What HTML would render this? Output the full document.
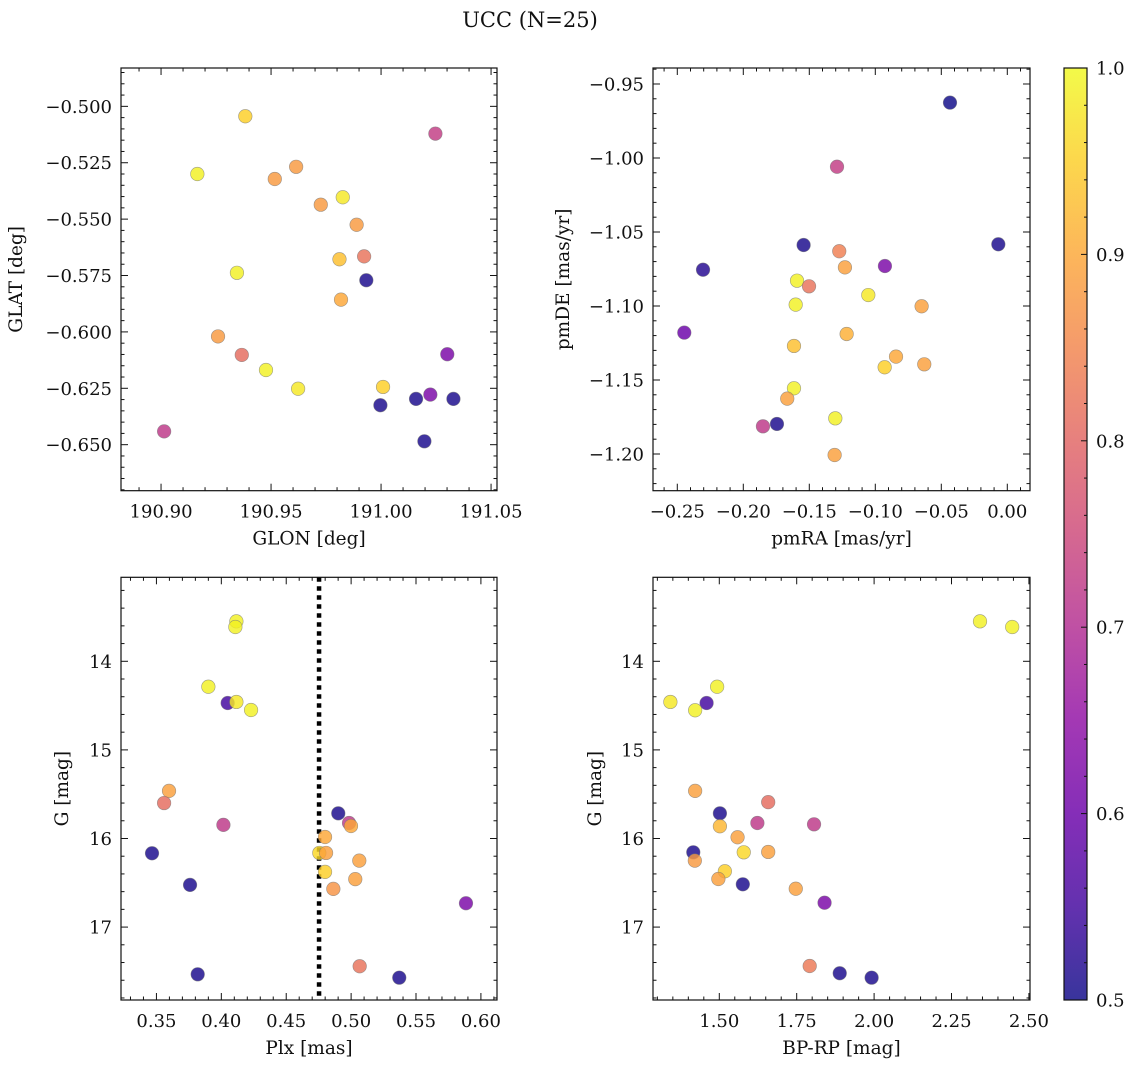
<!DOCTYPE html>
<html><head><meta charset="utf-8"><style>
body{margin:0;background:#fff;}
svg text{font-family:"DejaVu Serif","Liberation Serif",serif;fill:#111;}
</style></head><body>
<svg id="fig" width="1136" height="1067" xmlns="http://www.w3.org/2000/svg">
<defs>
<linearGradient id="plasmaGrad" x1="0" y1="1" x2="0" y2="0">
<stop offset="0" stop-color="#0d0887"/><stop offset="0.1" stop-color="#41049d"/><stop offset="0.2" stop-color="#6a00a8"/><stop offset="0.3" stop-color="#8f0da4"/><stop offset="0.4" stop-color="#b12a90"/><stop offset="0.5" stop-color="#cc4778"/><stop offset="0.6" stop-color="#e16462"/><stop offset="0.7" stop-color="#f2844b"/><stop offset="0.8" stop-color="#fca636"/><stop offset="0.9" stop-color="#fcce25"/><stop offset="1" stop-color="#f0f921"/>
</linearGradient>
</defs>
<text x="530" y="27" text-anchor="middle" font-size="21">UCC (N=25)</text>
</svg>
<script>
// Panel 1: GLON / GLAT
const glon=[190.9383,191.0247,190.9165,190.9614,190.9517,190.9826,190.9726,190.9889,190.9923,190.9811,190.9345,190.9933,190.9818,190.9259,190.9367,191.0301,190.9477,190.9623,191.0009,191.0224,191.0159,191.0329,190.9997,191.0197,190.9014];
const glat=[-0.5044,-0.5121,-0.5300,-0.5268,-0.5322,-0.5403,-0.5436,-0.5525,-0.5665,-0.5678,-0.5738,-0.5771,-0.5857,-0.6020,-0.6102,-0.6099,-0.6169,-0.6252,-0.6244,-0.6278,-0.6297,-0.6297,-0.6325,-0.6485,-0.6441];
const prob1=[0.95,0.73,0.99,0.88,0.88,0.98,0.88,0.88,0.82,0.93,0.99,0.51,0.90,0.88,0.81,0.62,0.99,0.98,0.95,0.62,0.51,0.51,0.51,0.51,0.72];
// Panel 2: pmRA / pmDE
const pmra=[-0.0434,-0.1290,-0.1543,-0.0068,-0.1273,-0.2305,-0.1230,-0.0927,-0.1593,-0.1502,-0.1053,-0.1603,-0.0649,-0.2447,-0.1217,-0.1616,-0.0843,-0.0929,-0.0629,-0.1616,-0.1667,-0.1303,-0.1851,-0.1745,-0.1308];
const pmde=[-0.9626,-1.0059,-1.0588,-1.0583,-1.0630,-1.0755,-1.0739,-1.0730,-1.0829,-1.0867,-1.0926,-1.0991,-1.1002,-1.1180,-1.1189,-1.1270,-1.1342,-1.1414,-1.1394,-1.1556,-1.1626,-1.1759,-1.1813,-1.1797,-1.2007];
const prob2=[0.50,0.73,0.51,0.51,0.84,0.52,0.89,0.62,0.99,0.82,0.98,0.99,0.89,0.60,0.91,0.93,0.90,0.95,0.89,0.99,0.89,0.99,0.72,0.51,0.89];
// Panel 3: Plx / G
const plx=[0.4116,0.4108,0.3900,0.4049,0.4116,0.4229,0.3597,0.3559,0.4016,0.3466,0.3759,0.3818,0.4901,0.4984,0.4999,0.4799,0.4755,0.4807,0.5063,0.4799,0.5032,0.4863,0.5885,0.5066,0.5371];
const gmag3=[13.549,13.613,14.287,14.471,14.459,14.55,15.463,15.60,15.846,16.167,16.524,17.533,15.716,15.825,15.859,15.983,16.163,16.163,16.25,16.377,16.459,16.569,16.731,17.442,17.571];
const prob3=[0.99,0.99,0.99,0.55,0.98,0.99,0.89,0.81,0.72,0.51,0.51,0.51,0.51,0.72,0.90,0.90,0.96,0.89,0.89,0.95,0.89,0.87,0.62,0.82,0.51];
const plxLine=[0.4753];
// Panel 4: BP-RP / G
const bprp=[2.342,2.446,1.493,1.342,1.459,1.422,1.422,1.658,1.502,1.623,1.806,1.502,1.559,1.416,1.579,1.658,1.421,1.518,1.497,1.576,1.747,1.840,1.792,1.889,1.992];
const gmag4=[13.549,13.613,14.287,14.459,14.471,14.553,15.463,15.59,15.716,15.825,15.840,15.862,15.986,16.156,16.156,16.152,16.25,16.37,16.457,16.517,16.567,16.725,17.439,17.521,17.571];
const prob4=[0.99,0.99,0.99,0.98,0.55,0.99,0.89,0.81,0.51,0.72,0.72,0.92,0.89,0.51,0.96,0.89,0.88,0.95,0.89,0.51,0.89,0.62,0.83,0.51,0.51];
const cbTicks=[0.5,0.6,0.7,0.8,0.9,1.0];

const NS='http://www.w3.org/2000/svg';
const svg=document.getElementById('fig');
const stops=[[0,[13,8,135]],[0.1,[65,4,157]],[0.2,[106,0,168]],[0.3,[143,13,164]],[0.4,[177,42,144]],[0.5,[204,71,120]],[0.6,[225,100,98]],[0.7,[242,132,75]],[0.8,[252,166,54]],[0.9,[252,206,37]],[1,[240,249,33]]];
function plasma(v){v=Math.max(0,Math.min(1,(v-0.5)/0.5));for(let i=1;i<stops.length;i++){if(v<=stops[i][0]){const a=stops[i-1],b=stops[i];const t=(v-a[0])/(b[0]-a[0]);const c=a[1].map((x,k)=>Math.round(x+(b[1][k]-x)*t));return 'rgb('+c.join(',')+')';}}return 'rgb(240,249,33)';}
function mk(tag,attrs,parent){const e=document.createElementNS(NS,tag);for(const k in attrs)e.setAttribute(k,attrs[k]);(parent||svg).appendChild(e);return e;}

function panel(o){
  const g=mk('g',{});
  
  
  const sx=v=>o.L+(v-o.x0)/(o.x1-o.x0)*(o.R-o.L);
  const sy=v=>o.T+(v-o.y0)/(o.y1-o.y0)*(o.B-o.T);
  const eps=1e-9;
  const tg=mk('g',{stroke:'#111','stroke-width':1},g);
  const xmin=Math.min(o.x0,o.x1),xmax=Math.max(o.x0,o.x1);
  for(let k=Math.ceil(xmin/o.xmin-eps);k*o.xmin<=xmax+eps;k++){const v=k*o.xmin;const x=sx(v);const maj=Math.abs(v/o.xmaj-Math.round(v/o.xmaj))<1e-6;const l=maj?7:3.5;
    mk('line',{x1:x,x2:x,y1:o.B,y2:o.B-l},tg);mk('line',{x1:x,x2:x,y1:o.T,y2:o.T+l},tg);}
  const ymin=Math.min(o.y0,o.y1),ymax=Math.max(o.y0,o.y1);
  for(let k=Math.ceil(ymin/o.ymin-eps);k*o.ymin<=ymax+eps;k++){const v=k*o.ymin;const y=sy(v);const maj=Math.abs(v/o.ymaj-Math.round(v/o.ymaj))<1e-6;const l=maj?7:3.5;
    mk('line',{x1:o.L,x2:o.L+l,y1:y,y2:y},tg);mk('line',{x1:o.R,x2:o.R-l,y1:y,y2:y},tg);}
  o.xt.forEach(v=>{const t=mk('text',{x:sx(v),y:o.B+27,'text-anchor':'middle','font-size':18},g);t.textContent=o.xf(v);
    
    });
  o.yt.forEach(v=>{const t=mk('text',{x:o.L-9,y:sy(v)+6.5,'text-anchor':'end','font-size':18},g);t.textContent=o.yf(v);
    
    });
  const xl=mk('text',{x:(o.L+o.R)/2,y:o.B+54,'text-anchor':'middle','font-size':18.5},g);xl.textContent=o.xlabel;
  
  
  const yl=mk('text',{x:o.ylx,y:(o.T+o.B)/2,'text-anchor':'middle','font-size':18.5,transform:'rotate(-90 '+o.ylx+' '+(o.T+o.B)/2+')'},g);yl.textContent=o.ylabel;
  
  
  if(o.vline){o.vline.forEach(v=>{const l=mk('line',{x1:sx(v),x2:sx(v),y1:o.T,y2:o.B,stroke:'#000','stroke-width':4.5,'stroke-dasharray':'4.5 4.5'},g);
    
    });}
  o.xs.forEach((v,i)=>{const c=mk('circle',{cx:sx(v),cy:sy(o.ys[i]),r:6.8,fill:plasma(o.cs[i]),'fill-opacity':0.82,stroke:'#777','stroke-opacity':0.7,'stroke-width':0.6},g);
    
    });
  const fr=mk('rect',{x:o.L,y:o.T,width:o.R-o.L,height:o.B-o.T,fill:'none',stroke:'#111','stroke-width':1.2},g);
  
  
}
const f2=v=>(v<0?'\u2212':'')+Math.abs(v).toFixed(2);
const f3=v=>(v<0?'\u2212':'')+Math.abs(v).toFixed(3);
panel({name:'glon-glat-panel',L:121,R:497,T:68,B:490.7,x0:190.8818,x1:191.0527,y0:-0.4830,y1:-0.6704,xmaj:0.05,xmin:0.01,ymaj:0.025,ymin:0.005,
  xt:[190.90,190.95,191.00,191.05],yt:[-0.500,-0.525,-0.550,-0.575,-0.600,-0.625,-0.650],xf:v=>v.toFixed(2),yf:f3,xlabel:'GLON [deg]',ylabel:'GLAT [deg]',ylx:22,xs:glon,ys:glat,cs:prob1});
panel({name:'pm-panel',L:653,R:1030,T:68,B:490.7,x0:-0.2684,x1:0.0172,y0:-0.9392,y1:-1.2248,xmaj:0.05,xmin:0.01,ymaj:0.05,ymin:0.01,
  xt:[-0.25,-0.20,-0.15,-0.10,-0.05,0.00],yt:[-0.95,-1.00,-1.05,-1.10,-1.15,-1.20],xf:f2,yf:f2,xlabel:'pmRA [mas/yr]',ylabel:'pmDE [mas/yr]',ylx:569,xs:pmra,ys:pmde,cs:prob2});
panel({name:'plx-g-panel',L:121,R:497,T:577.3,B:1000,x0:0.3227,x1:0.6124,y0:13.052,y1:17.823,xmaj:0.05,xmin:0.01,ymaj:1,ymin:0.2,
  xt:[0.35,0.40,0.45,0.50,0.55,0.60],yt:[14,15,16,17],xf:v=>v.toFixed(2),yf:v=>String(v),xlabel:'Plx [mas]',ylabel:'G [mag]',ylx:68,xs:plx,ys:gmag3,cs:prob3,vline:plxLine});
panel({name:'cmd-panel',L:653,R:1030,T:577.3,B:1000,x0:1.2859,x1:2.5035,y0:13.052,y1:17.823,xmaj:0.25,xmin:0.05,ymaj:1,ymin:0.2,
  xt:[1.50,1.75,2.00,2.25,2.50],yt:[14,15,16,17],xf:v=>v.toFixed(2),yf:v=>String(v),xlabel:'BP-RP [mag]',ylabel:'G [mag]',ylx:601,xs:bprp,ys:gmag4,cs:prob4});
const cb=mk('g',{});


const cT=68,cB=1000,cL=1064,cR=1087;
mk('rect',{x:cL,y:cT,width:cR-cL,height:cB-cT,fill:'url(#plasmaGrad)','fill-opacity':0.82},cb);
mk('rect',{x:cL,y:cT,width:cR-cL,height:cB-cT,fill:'none',stroke:'#111','stroke-width':1.2},cb);
const cy=v=>cB-(v-0.5)/0.5*(cB-cT);
cbTicks.forEach(v=>{mk('line',{x1:cR,x2:cR-6,y1:cy(v),y2:cy(v),stroke:'#111'},cb);
  const t=mk('text',{x:cR+9,y:cy(v)+6.5,'font-size':18},cb);t.textContent=v.toFixed(1);
  
  });
for(let k=0;k<=25;k++){const v=0.5+k*0.02;if(k%5)mk('line',{x1:cR,x2:cR-3,y1:cy(v),y2:cy(v),stroke:'#111'},cb);}
</script>
</body></html>
